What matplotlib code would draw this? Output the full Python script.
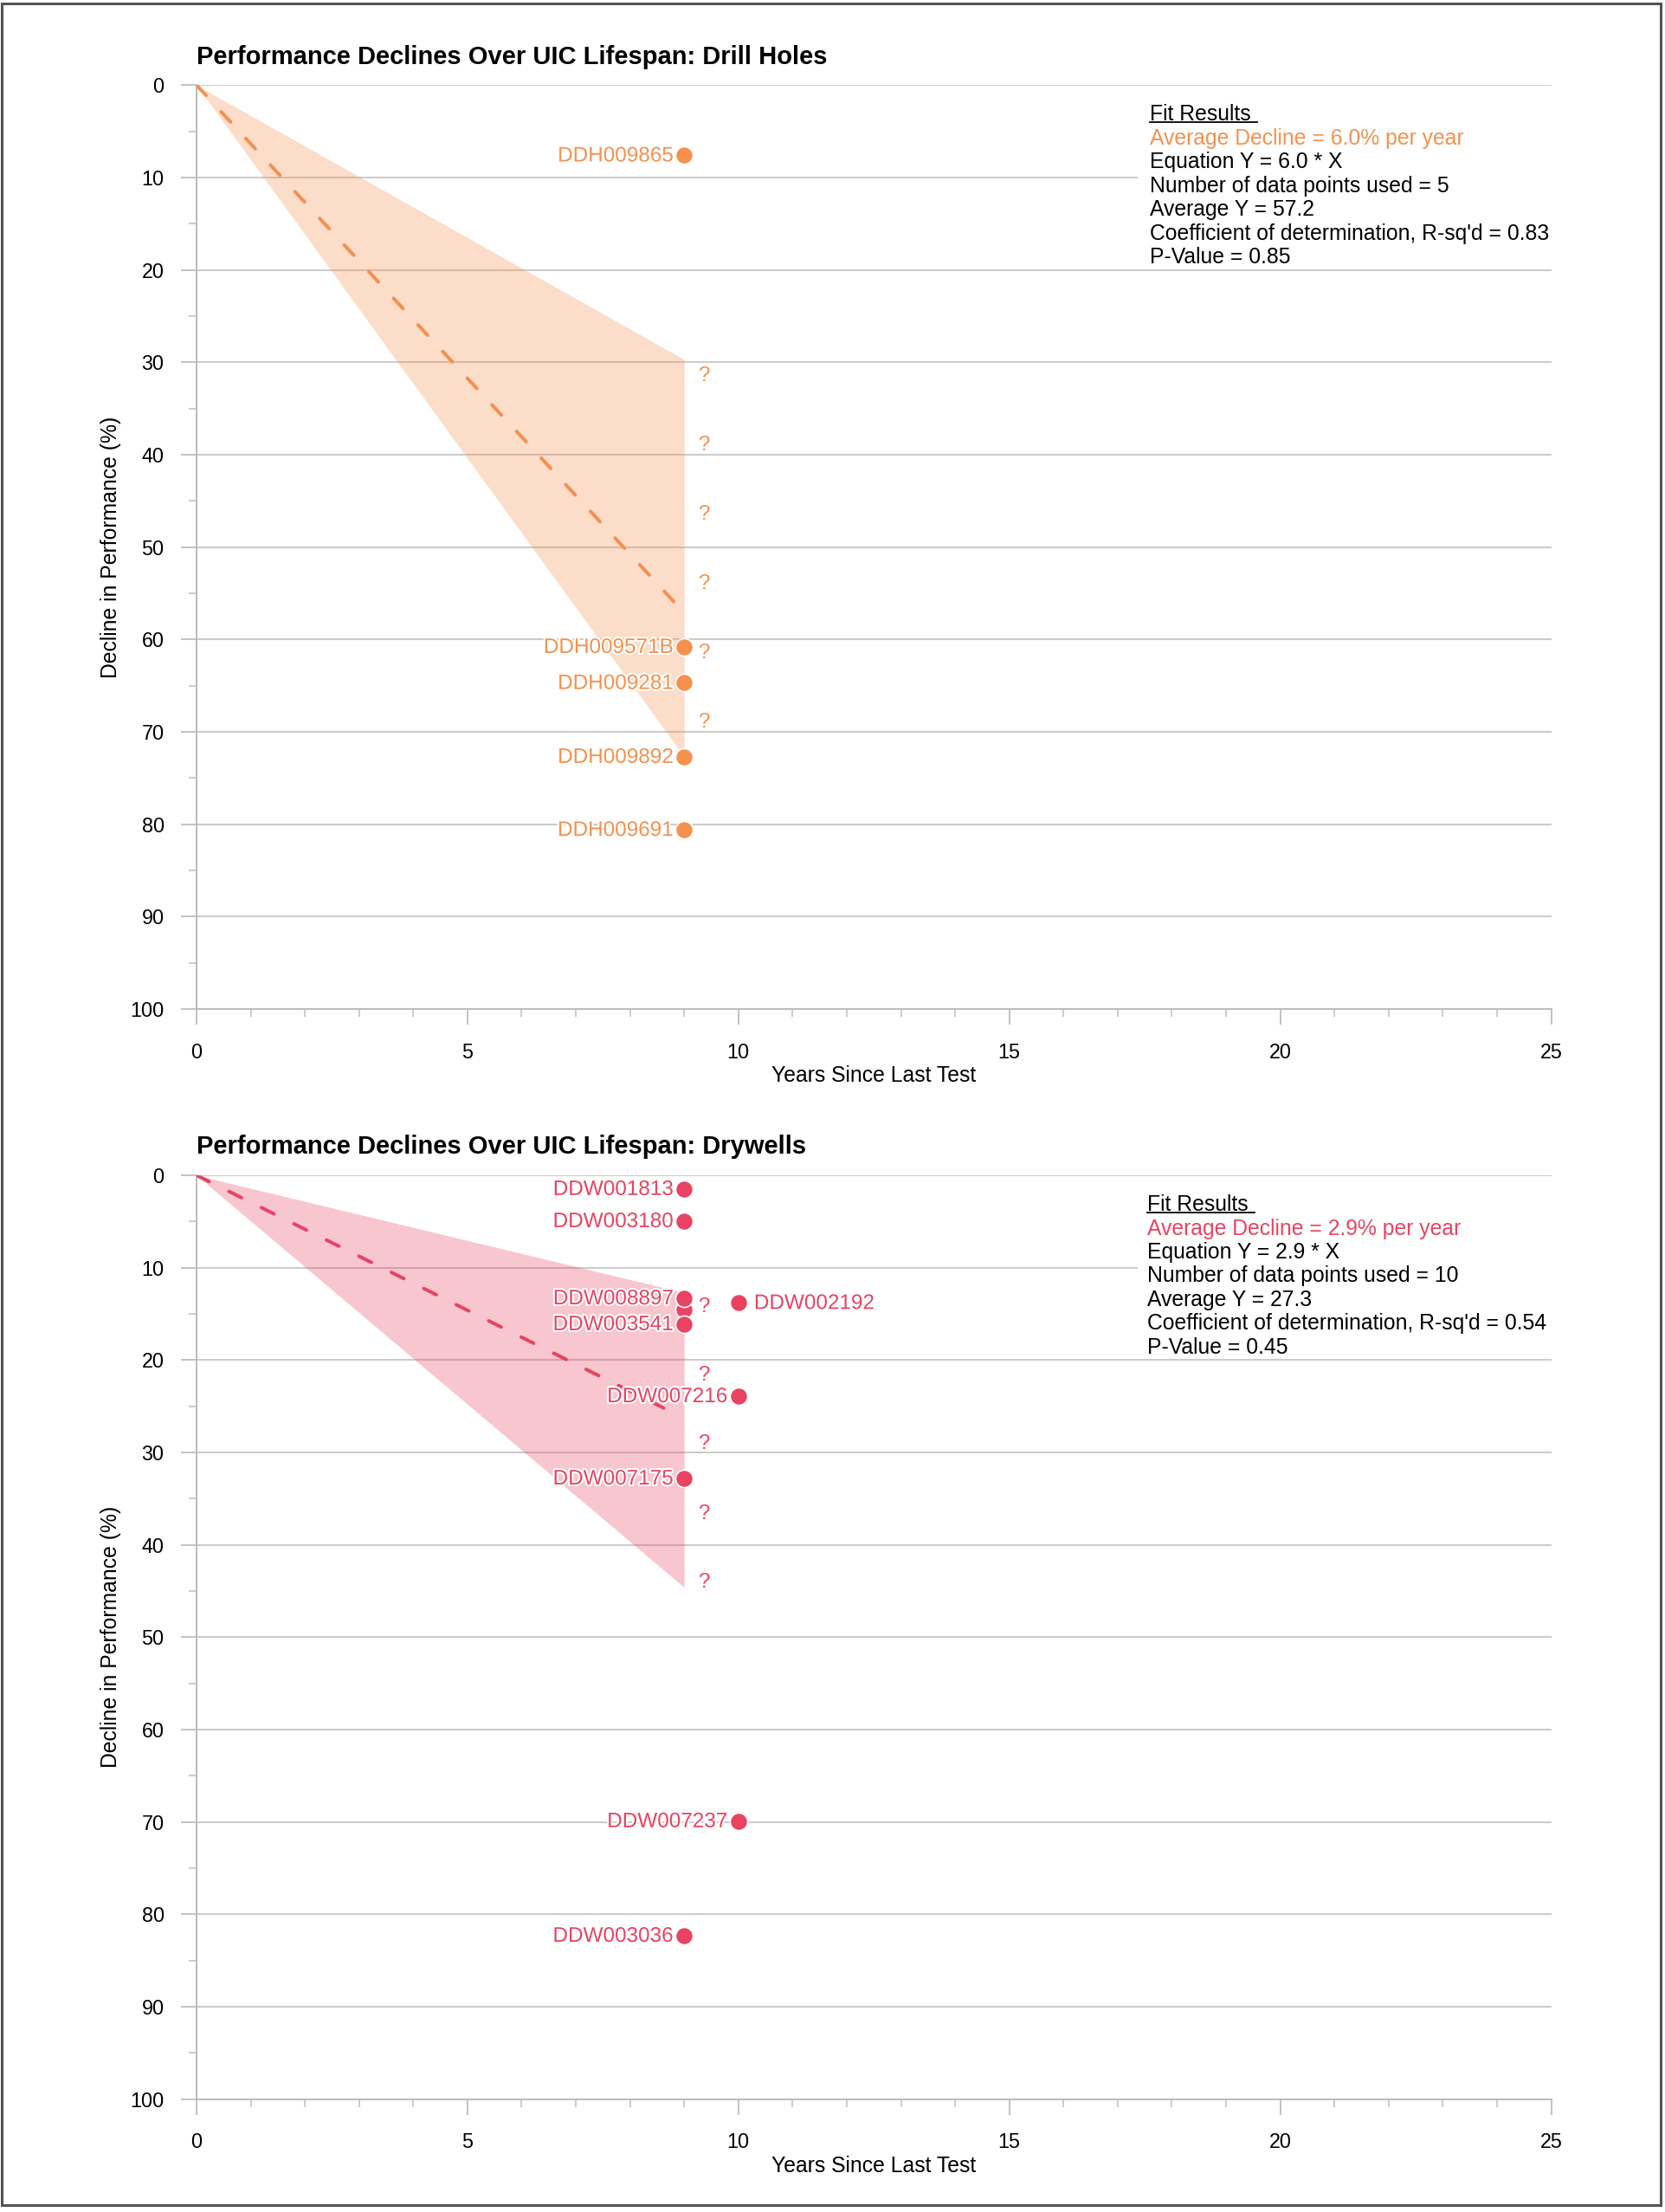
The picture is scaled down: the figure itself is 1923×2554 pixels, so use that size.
import matplotlib
matplotlib.use("Agg")
import matplotlib.pyplot as plt
import matplotlib.patheffects as pe
from matplotlib.patches import Rectangle
from matplotlib.lines import Line2D
from matplotlib.ticker import MultipleLocator

plt.rcParams.update({"font.family": ["Liberation Sans", "DejaVu Sans"]})

ORANGE, PINK, GRID, SPINE, INK = "#F4914F", "#E84462", "#cccccc", "#bdbdbd", "#000000"

# ---- drill holes ----
DH_NAMES = ["DDH009865", "DDH009571B", "DDH009281", "DDH009892", "DDH009691"]
DH_YEARS = [9, 9, 9, 9, 9]
DH_DECLINE = [7.6, 60.8, 64.7, 72.7, 80.6]
DH_BAND_X = [0, 9]
DH_BAND_LO = [0, 29.7]
DH_BAND_HI = [0, 72.7]
DH_FIT_X = [0, 8.95]
DH_FIT_Y = [0, 56.8]
DH_Q_Y = [31.3, 38.8, 46.3, 53.8, 61.3, 68.8]
DH_FIT = ["Fit Results ", "Average Decline = 6.0% per year", "Equation Y = 6.0 * X",
          "Number of data points used = 5", "Average Y = 57.2",
          "Coefficient of determination, R-sq'd = 0.83", "P-Value = 0.85"]

# ---- drywells (first point is hidden under its neighbours, no label) ----
DW_NAMES = ["", "DDW001813", "DDW003180", "DDW008897", "DDW003541", "DDW002192",
            "DDW007216", "DDW007175", "DDW007237", "DDW003036"]
DW_YEARS = [9, 9, 9, 9, 9, 10, 10, 9, 10, 9]
DW_DECLINE = [14.5, 1.47, 4.95, 13.3, 16.1, 13.8, 23.9, 32.8, 69.9, 82.3]
DW_BAND_X = [0, 9]
DW_BAND_LO = [0, 12.7]
DW_BAND_HI = [0, 44.6]
DW_FIT_X = [0, 8.83]
DW_FIT_Y = [0, 25.8]
DW_Q_Y = [14.1, 21.5, 28.9, 36.5, 43.95]
DW_FIT = ["Fit Results ", "Average Decline = 2.9% per year", "Equation Y = 2.9 * X",
          "Number of data points used = 10", "Average Y = 27.3",
          "Coefficient of determination, R-sq'd = 0.54", "P-Value = 0.45"]
RIGHT_LABELS = {"DDW002192"}
Q_X = 9.36

W, H, DPI = 1923, 2554, 100
fig = plt.figure(figsize=(W / DPI, H / DPI), dpi=DPI)


def px_axes(left, top, right, bottom):
    return fig.add_axes([left / W, 1 - bottom / H, (right - left) / W, (bottom - top) / H])


def panel(ax, title, years, decline, names, bx, blo, bhi, fx, fy, qy, fit, col, tx):
    ax.set_xlim(0, 25); ax.set_ylim(100, 0)
    ax.xaxis.set_major_locator(MultipleLocator(5)); ax.xaxis.set_minor_locator(MultipleLocator(1))
    ax.yaxis.set_major_locator(MultipleLocator(10)); ax.yaxis.set_minor_locator(MultipleLocator(5))
    ax.set_axisbelow(True)
    ax.grid(axis="y", which="major", color=GRID, lw=1.5)
    for s in ("top", "right"):
        ax.spines[s].set_visible(False)
    for s in ("left", "bottom"):
        ax.spines[s].set_color(SPINE); ax.spines[s].set_linewidth(1.5)
    ax.tick_params(which="major", length=13, width=1.3, color=SPINE, labelsize=16.8)
    ax.tick_params(which="minor", length=6.5, width=1.1, color=SPINE)
    ax.tick_params(axis="x", which="major", pad=14.8)
    ax.tick_params(axis="y", which="major", pad=13.9)

    ax.fill_between(bx, blo, bhi, color=col, alpha=0.3, lw=0, zorder=2)
    ax.plot(fx, fy, color=col, lw=2.9, ls=(0, (4, 6.4)), dash_capstyle="round", zorder=3)
    ax.scatter(years, decline, s=210, color=col, edgecolor="white", lw=1.2, zorder=4)
    halo = [pe.withStroke(linewidth=3, foreground="white")]
    for x, y, n in zip(years, decline, names):
        if not n:
            continue
        right = n in RIGHT_LABELS
        ax.annotate(n, (x, y), xytext=(13 if right else -9, -0.8), textcoords="offset points",
                    ha="left" if right else "right", va="center", fontsize=17.5,
                    color=col, path_effects=halo, zorder=5)
    for y in qy:
        ax.annotate("?", (Q_X, y), xytext=(0, -1.2), textcoords="offset points",
                    color=col, fontsize=17.5, ha="center", va="center", zorder=5)

    ax.add_patch(Rectangle((17.37, 1.3), 8, 18.4, facecolor="white", edgecolor="none", zorder=1))
    head = None
    for i, line in enumerate(fit):
        t = ax.text(tx, 3.2 + i * 2.57, line, fontsize=17.8, va="center",
                    color=col if i == 1 else INK, zorder=6)
        if i == 0:
            head = t

    ax.text(0, 1.0305, title, transform=ax.transAxes, fontsize=21, fontweight="bold", va="center")
    ax.text(-0.0635, 0.5, "Decline in Performance (%)", transform=ax.transAxes, rotation=90,
            ha="center", va="center", fontsize=17.8)
    ax.text(0.5, -0.0725, "Years Since Last Test", transform=ax.transAxes,
            ha="center", va="center", fontsize=17.8)
    return head


ax1 = px_axes(227, 98.3, 1791.5, 1165)
ax2 = px_axes(227, 1357, 1791.5, 2423.7)
h1 = panel(ax1, "Performance Declines Over UIC Lifespan: Drill Holes", DH_YEARS, DH_DECLINE,
           DH_NAMES, DH_BAND_X, DH_BAND_LO, DH_BAND_HI, DH_FIT_X, DH_FIT_Y, DH_Q_Y, DH_FIT, ORANGE, 17.6)
h2 = panel(ax2, "Performance Declines Over UIC Lifespan: Drywells", DW_YEARS, DW_DECLINE,
           DW_NAMES, DW_BAND_X, DW_BAND_LO, DW_BAND_HI, DW_FIT_X, DW_FIT_Y, DW_Q_Y, DW_FIT, PINK, 17.55)

# underline the "Fit Results" headings
fig.canvas.draw()
for h in (h1, h2):
    bb = h.get_window_extent()
    y = (bb.y0 + 3) / H
    fig.add_artist(Line2D([bb.x0 / W, bb.x1 / W], [y, y], transform=fig.transFigure,
                          color=INK, lw=1.3))

fig.add_artist(Rectangle((2 / W, 8 / H), 1916 / W, 2542 / H, transform=fig.transFigure,
                         fill=False, edgecolor="#555555", lw=2.2))

fig.savefig("out.png", dpi=DPI)
